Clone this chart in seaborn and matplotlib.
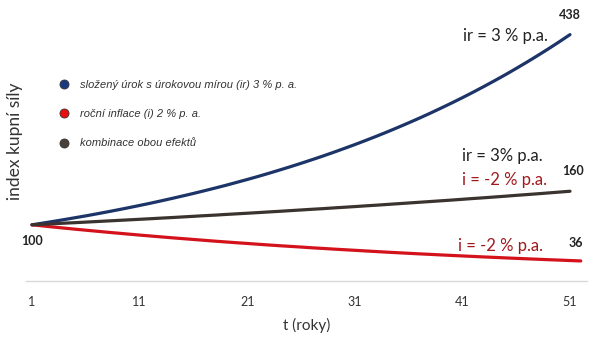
import matplotlib
matplotlib.use("Agg")
import matplotlib.pyplot as plt
from matplotlib.lines import Line2D
import seaborn as sns
import pandas as pd

years = list(range(1, 52))
years_inflation = list(range(1, 53))
compound = [100.0, 103.0, 106.1, 109.3, 112.6, 115.9, 119.4, 123.0, 126.7, 130.5,
            134.4, 138.4, 142.6, 146.9, 151.3, 155.8, 160.5, 165.3, 170.2, 175.4,
            180.6, 186.0, 191.6, 197.4, 203.3, 209.4, 215.7, 222.1, 228.8, 235.7,
            242.7, 250.0, 257.5, 265.2, 273.2, 281.4, 289.8, 298.5, 307.5, 316.7,
            326.2, 336.0, 346.1, 356.5, 367.1, 378.2, 389.5, 401.2, 413.2, 425.6, 438.4]
inflation = [100.0, 98.0, 96.0, 94.1, 92.2, 90.4, 88.6, 86.8, 85.1, 83.4,
             81.7, 80.1, 78.5, 76.9, 75.4, 73.9, 72.4, 70.9, 69.5, 68.1,
             66.8, 65.4, 64.1, 62.8, 61.6, 60.4, 59.1, 58.0, 56.8, 55.7,
             54.6, 53.5, 52.4, 51.3, 50.3, 49.3, 48.3, 47.4, 46.4, 45.5,
             44.6, 43.7, 42.8, 42.0, 41.1, 40.3, 39.5, 38.7, 37.9, 37.2, 36.4, 35.7]
combined = [100.0, 100.9, 101.9, 102.9, 103.8, 104.8, 105.8, 106.8, 107.8, 108.8,
            109.8, 110.8, 111.9, 112.9, 114.0, 115.1, 116.2, 117.2, 118.4, 119.5,
            120.6, 121.7, 122.9, 124.0, 125.2, 126.4, 127.6, 128.7, 130.0, 131.2,
            132.4, 133.7, 134.9, 136.2, 137.5, 138.8, 140.1, 141.4, 142.7, 144.0,
            145.4, 146.8, 148.1, 149.5, 150.9, 152.4, 153.8, 155.2, 156.7, 158.2, 159.7]

series_names = ["složený úrok s úrokovou mírou (ir) 3 % p. a.",
                "roční inflace (i) 2 % p. a.",
                "kombinace obou efektů"]
line_colors = ["#1c3468", "#d4121b", "#3b332f"]
marker_colors = ["#1a3a80", "#e81010", "#4a403a"]
xticks = [1, 11, 21, 31, 41, 51]

df = pd.DataFrame({
    "t": years + years_inflation + years,
    "index": compound + inflation + combined,
    "series": [series_names[0]] * len(compound) + [series_names[1]] * len(inflation)
              + [series_names[2]] * len(combined),
})

sns.set_theme(style="white")
plt.rcParams["font.family"] = ["Lato", "DejaVu Sans"]

fig = plt.figure(figsize=(6.0, 3.37), dpi=100)
ax = fig.add_axes([26 / 600, 56 / 337, 561 / 600, 281 / 337])

sns.lineplot(data=df, x="t", y="index", hue="series", hue_order=series_names,
             palette=dict(zip(series_names, line_colors)), linewidth=2.3,
             legend=False, ax=ax, solid_capstyle="round")

ax.set_xlim(0.44, 52.58)
ax.set_ylim(0, 500)
ax.set_xticks(xticks)
ax.set_xticklabels([str(v) for v in xticks], fontsize=9, color="#333333")
ax.set_yticks([])
ax.tick_params(axis="x", length=0, pad=10.5)
for s in ["top", "right", "left"]:
    ax.spines[s].set_visible(False)
ax.spines["bottom"].set_color("#d9d9d9")
ax.spines["bottom"].set_linewidth(1.0)

ax.set_xlabel("")
ax.set_ylabel("")
fig.text(306.5 / 600, 1 - 325 / 337, "t (roky)", fontsize=11, color="#333333",
         ha="center", va="center")
fig.text(15 / 600, 1 - 141 / 337, "index kupní síly", rotation=90, fontsize=12.5,
         color="#333333", ha="center", va="center")

handles = [Line2D([0], [0], linestyle="none", marker="o", markersize=6.5,
                  markerfacecolor=c, markeredgecolor="#333333", markeredgewidth=0.6)
           for c in marker_colors]
leg = ax.legend(handles, series_names, loc="upper left", bbox_to_anchor=(0.09, 0.777),
                bbox_transform=fig.transFigure, frameon=False, handletextpad=0.9,
                labelspacing=1.75, handlelength=1.0, borderaxespad=0,
                prop={"family": "Liberation Sans", "style": "italic", "size": 8})
for t in leg.get_texts():
    t.set_color("#333333")

num_kw = dict(fontsize=9, fontweight="bold", color="#222222", ha="center", va="center")
lab_kw = dict(fontsize=12, ha="left", va="center")
ax.text(51, 473, "438", **num_kw)
ax.text(41.05, 436, "ir = 3 % p.a.", color="#222222", **lab_kw)
ax.text(40.95, 222, "ir = 3% p.a.", color="#222222", **lab_kw)
ax.text(40.95, 180, "i = -2 % p.a.", color="#a0191e", **lab_kw)
ax.text(51.3, 196, "160", **num_kw)
ax.text(40.6, 63, "i = -2 % p.a.", color="#a0191e", **lab_kw)
ax.text(51.55, 68, "36", **num_kw)
ax.text(1, 71, "100", **num_kw)

fig.savefig("out.png", dpi=100, facecolor="white")
